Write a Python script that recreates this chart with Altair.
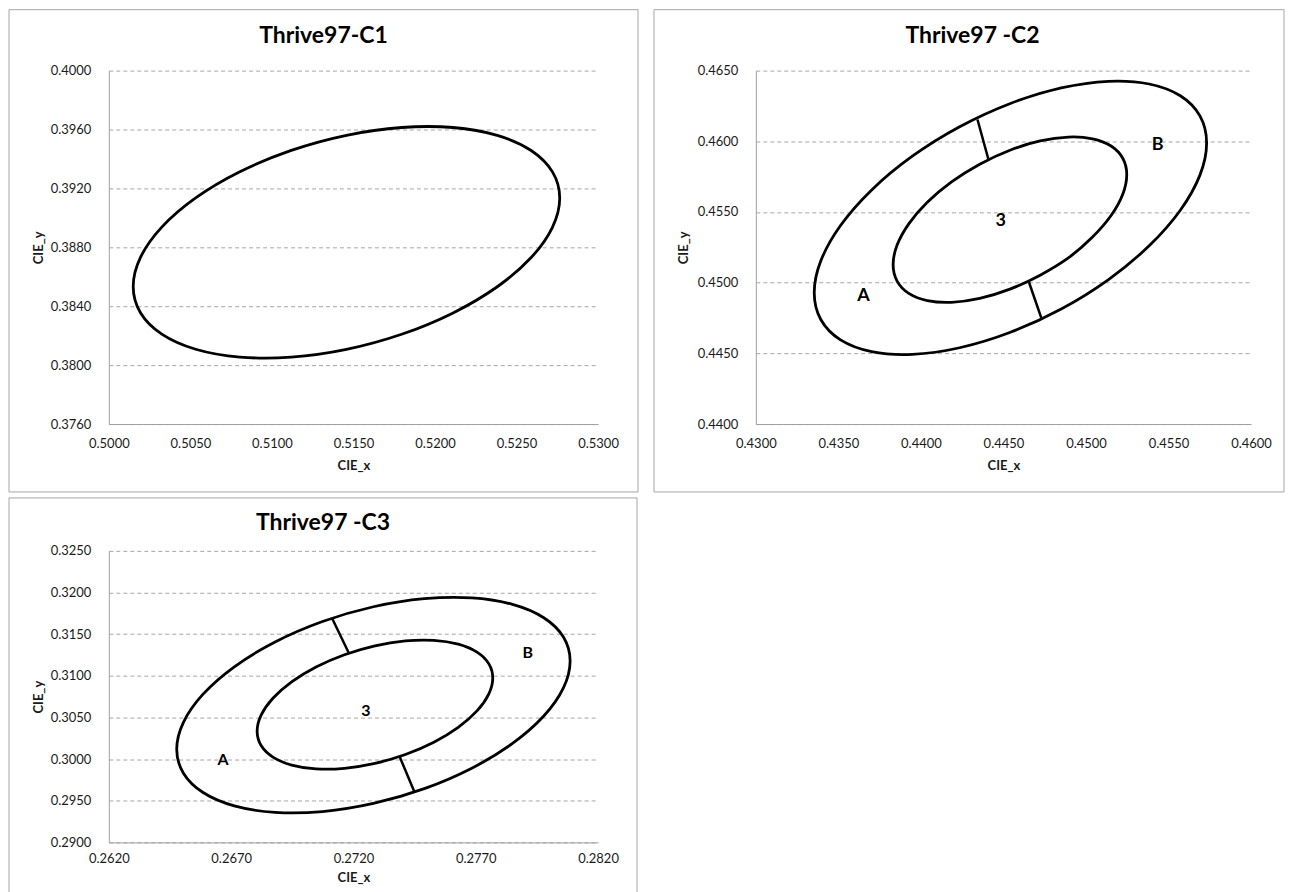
import altair as alt
import pandas as pd

FONT = "Lato"
GRID = "#a6a6a6"
AXIS = "#a0a0a0"
FRAME = "#a6a6a6"
INK = "#000000"
LABEL = "#1a1a1a"

# ---------------- Thrive97-C1 ----------------
c1_x = [0.527648, 0.527202, 0.525896, 0.523818, 0.52111, 0.517955, 0.514571, 0.511187,
        0.508032, 0.505324, 0.503246, 0.50194, 0.501494, 0.50194, 0.503246, 0.505324,
        0.508032, 0.511187, 0.514571, 0.517955, 0.52111, 0.523818, 0.525896, 0.527202]
c1_y = [0.391342, 0.393121, 0.394574, 0.395601, 0.396135, 0.396136, 0.395607, 0.394582,
        0.393131, 0.391355, 0.389372, 0.387319, 0.385336, 0.383557, 0.382104, 0.381077,
        0.380543, 0.380542, 0.381071, 0.382096, 0.383547, 0.385323, 0.387306, 0.389359]
c1_xticks = [0.5000, 0.5050, 0.5100, 0.5150, 0.5200, 0.5250, 0.5300]
c1_yticks = [0.3760, 0.3800, 0.3840, 0.3880, 0.3920, 0.3960, 0.4000]

# ---------------- Thrive97 -C2 ----------------
c2_outer_x = [0.457308, 0.456903, 0.455715, 0.453827, 0.451366, 0.448499, 0.445423, 0.442347,
              0.43948, 0.437019, 0.435131, 0.433943, 0.433538, 0.433943, 0.435131, 0.437019,
              0.43948, 0.442347, 0.445423, 0.448499, 0.451366, 0.453827, 0.455715, 0.456903]
c2_outer_y = [0.459881, 0.461794, 0.463218, 0.464052, 0.464241, 0.463772, 0.462677, 0.46103,
              0.458945, 0.456562, 0.454044, 0.451562, 0.449287, 0.447374, 0.44595, 0.445116,
              0.444927, 0.445396, 0.446491, 0.448138, 0.450223, 0.452606, 0.455124, 0.457606]
c2_inner_x = [0.45247, 0.452228, 0.451521, 0.450397, 0.448931, 0.447224, 0.445393, 0.443562,
              0.441855, 0.440389, 0.439265, 0.438558, 0.438316, 0.438558, 0.439265, 0.440389,
              0.441855, 0.443562, 0.445393, 0.447224, 0.448931, 0.450397, 0.451521, 0.452228]
c2_inner_y = [0.457634, 0.458798, 0.459666, 0.460178, 0.460301, 0.460025, 0.459371, 0.458381,
              0.457123, 0.455684, 0.454162, 0.452658, 0.451278, 0.450114, 0.449246, 0.448734,
              0.448611, 0.448887, 0.449541, 0.45053, 0.45175, 0.453228, 0.454748, 0.456254]
c2_seg_x = [0.443427, 0.446548]
c2_seg_y = [0.46154, 0.450029]
c2_seg_x2 = [0.44408, 0.447292]
c2_seg_y2 = [0.458764, 0.447507]
c2_lab_text = ["A", "B", "3"]
c2_lab_x = [0.43652, 0.45434, 0.44483]
c2_lab_y = [0.44906, 0.45971, 0.45439]
c2_xticks = [0.4300, 0.4350, 0.4400, 0.4450, 0.4500, 0.4550, 0.4600]
c2_yticks = [0.4400, 0.4450, 0.4500, 0.4550, 0.4600, 0.4650]

# ---------------- Thrive97 -C3 ----------------
c3_outer_x = [0.280857, 0.280583, 0.27978, 0.278502, 0.276837, 0.274897, 0.272816, 0.270735,
              0.268795, 0.26713, 0.265852, 0.265049, 0.264775, 0.265049, 0.265852, 0.26713,
              0.268795, 0.270735, 0.272816, 0.274897, 0.276837, 0.278502, 0.27978, 0.280583]
c3_outer_y = [0.311779, 0.314654, 0.316973, 0.318576, 0.319355, 0.319256, 0.318288, 0.316514,
              0.314057, 0.311084, 0.307797, 0.30442, 0.301183, 0.298308, 0.295989, 0.294386,
              0.293607, 0.293706, 0.294674, 0.296448, 0.298905, 0.301878, 0.305165, 0.308542]
c3_inner_x = [0.277694, 0.27753, 0.277049, 0.276283, 0.275286, 0.274124, 0.272878, 0.271632,
              0.27047, 0.269473, 0.268707, 0.268226, 0.268062, 0.268226, 0.268707, 0.269473,
              0.27047, 0.271632, 0.272878, 0.274124, 0.275286, 0.276283, 0.277049, 0.27753]
c3_inner_y = [0.309741, 0.311459, 0.312842, 0.313796, 0.314255, 0.314188, 0.313601, 0.312532,
              0.311055, 0.30927, 0.3073, 0.305277, 0.303341, 0.301623, 0.30024, 0.299286,
              0.298827, 0.298894, 0.299481, 0.30055, 0.302027, 0.303812, 0.305782, 0.307805]
c3_seg_x = [0.271131, 0.273881]
c3_seg_y = [0.316885, 0.300344]
c3_seg_x2 = [0.2718, 0.274498]
c3_seg_y2 = [0.3128, 0.296029]
c3_lab_text = ["A", "B", "3"]
c3_lab_x = [0.26667, 0.27913, 0.27251]
c3_lab_y = [0.29988, 0.31272, 0.30572]
c3_xticks = [0.2620, 0.2670, 0.2720, 0.2770, 0.2820]
c3_yticks = [0.2900, 0.2950, 0.3000, 0.3050, 0.3100, 0.3150, 0.3200, 0.3250]


def ring_df(rings):
    rows = []
    for name, xs, ys in rings:
        for i, (x, y) in enumerate(zip(xs, ys)):
            rows.append({"ring": name, "i": i, "x": x, "y": y})
    return pd.DataFrame(rows)


def panel(title, rings, xticks, yticks, w, h, frame, title_xy, ytitle_x,
          xlab_pad, xtitle_y, segs=None, labels=None, label_size=16):
    xscale = alt.Scale(domain=[xticks[0], xticks[-1]], nice=False, zero=False)
    yscale = alt.Scale(domain=[yticks[0], yticks[-1]], nice=False, zero=False)
    xaxis = alt.Axis(values=xticks, format=".4f", grid=False, ticks=False, tickSize=0,
                     labelPadding=xlab_pad, labelBaseline="middle", labelFlush=False,
                     labelOverlap=False, labelFontSize=13, labelColor=LABEL,
                     domainColor=AXIS, domainWidth=1,
                     title="CIE_x", titleFontSize=13, titleFontWeight="bold", titleColor=LABEL,
                     titleX=w / 2, titleY=xtitle_y, titleAlign="center", titleBaseline="middle")
    yaxis = alt.Axis(values=yticks, format=".4f", grid=True, gridDash=[4, 3], gridColor=GRID,
                     gridWidth=1, ticks=False, tickSize=0, labelPadding=18, labelFlush=False,
                     labelOverlap=False, labelFontSize=13, labelColor=LABEL,
                     domainColor=AXIS, domainWidth=1,
                     title="CIE_y", titleFontSize=13, titleFontWeight="bold", titleColor=LABEL,
                     titleX=ytitle_x, titleY=h / 2, titleAngle=270, titleAlign="center",
                     titleBaseline="middle")
    one = pd.DataFrame({"k": [0]})
    box = alt.Chart(one).mark_rect(fill="transparent", stroke=FRAME, strokeWidth=1).encode(
        x=alt.value(frame[0]), x2=alt.value(frame[1]), y=alt.value(frame[2]), y2=alt.value(frame[3]))
    ttl = alt.Chart(one).mark_text(fontSize=23, fontWeight="bold", align="center",
                                   baseline="middle", color=INK).encode(
        x=alt.value(title_xy[0]), y=alt.value(title_xy[1]), text=alt.value(title))
    lines = alt.Chart(ring_df(rings)).mark_line(interpolate="cardinal-closed", strokeWidth=2.8,
                                                color=INK).encode(
        x=alt.X("x:Q", scale=xscale, axis=xaxis),
        y=alt.Y("y:Q", scale=yscale, axis=yaxis),
        detail="ring:N", order="i:Q")
    layers = [box, ttl, lines]
    if segs is not None:
        sdf = pd.DataFrame({"x": segs[0], "y": segs[1], "x2": segs[2], "y2": segs[3]})
        layers.append(alt.Chart(sdf).mark_rule(strokeWidth=2.5, color=INK).encode(
            x=alt.X("x:Q", scale=xscale, axis=xaxis),
            y=alt.Y("y:Q", scale=yscale, axis=yaxis),
            x2="x2:Q", y2="y2:Q"))
    if labels is not None:
        ldf = pd.DataFrame({"t": labels[0], "x": labels[1], "y": labels[2]})
        layers.append(alt.Chart(ldf).mark_text(fontSize=label_size, fontWeight="bold",
                                               color=INK).encode(
            x=alt.X("x:Q", scale=xscale, axis=xaxis),
            y=alt.Y("y:Q", scale=yscale, axis=yaxis),
            text="t:N"))
    return alt.layer(*layers).properties(width=w, height=h)


p1 = panel("Thrive97-C1", [("c1", c1_x, c1_y)], c1_xticks, c1_yticks, 490, 354,
           (-100, 530, -61, 422), (215, -34.5), -70, 19, 42)
p2 = panel("Thrive97 -C2", [("outer", c2_outer_x, c2_outer_y), ("inner", c2_inner_x, c2_inner_y)],
           c2_xticks, c2_yticks, 496, 354, (-102, 529, -61, 422), (217, -34.5), -72, 19, 42,
           segs=(c2_seg_x, c2_seg_y, c2_seg_x2, c2_seg_y2),
           labels=(c2_lab_text, c2_lab_x, c2_lab_y), label_size=18)
p3 = panel("Thrive97 -C3", [("outer", c3_outer_x, c3_outer_y), ("inner", c3_inner_x, c3_inner_y)],
           c3_xticks, c3_yticks, 490, 292, (-100, 529, -53, 345), (214.5, -28), -70, 16, 35,
           segs=(c3_seg_x, c3_seg_y, c3_seg_x2, c3_seg_y2),
           labels=(c3_lab_text, c3_lab_x, c3_lab_y), label_size=16)

top = alt.hconcat(p1, p2, spacing=14)
chart = alt.vconcat(top, p3, spacing=4).properties(
    padding={"left": 0, "top": 0, "right": 0, "bottom": 0}
).configure(font=FONT).configure_view(stroke=None)

chart.save("out.html", embed_options={"renderer": "svg", "actions": False})
